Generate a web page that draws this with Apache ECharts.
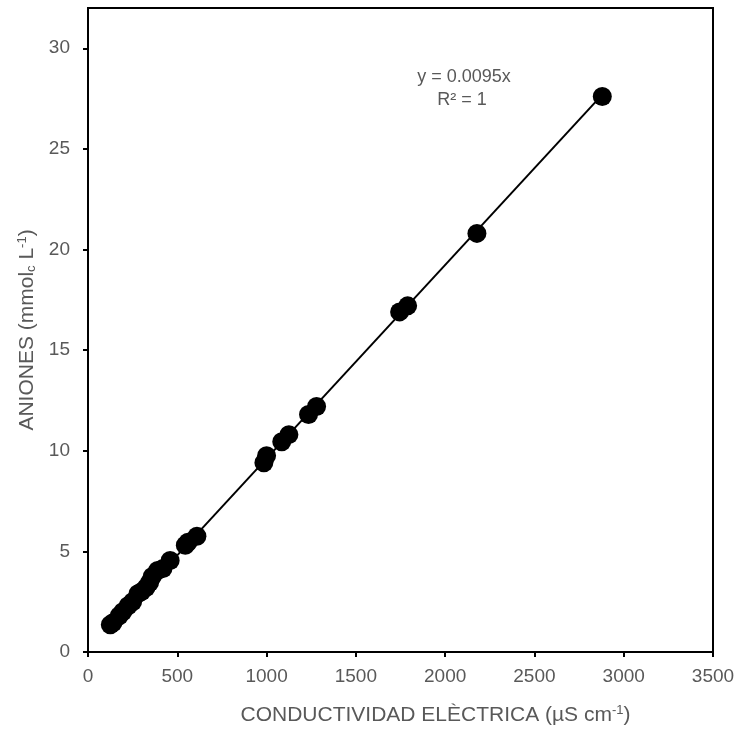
<!DOCTYPE html>
<html>
<head>
<meta charset="utf-8">
<script src="https://cdn.jsdelivr.net/npm/echarts@6/dist/echarts.min.js"></script>
<style>html,body{margin:0;padding:0;background:#fff}#c{width:740px;height:734px}</style>
</head>
<body>
<div id="c"></div>
<script>
// Conductividad eléctrica (µS/cm)
var conductivity = [125, 140, 175, 195, 225, 250, 280, 300, 325, 345, 360, 390, 420, 460, 545, 560, 610, 985, 1000, 1085, 1125, 1235, 1280, 1745, 1790, 2178, 2880];
// Aniones (mmolc/L)
var anions = [1.35, 1.45, 1.8, 2.0, 2.3, 2.5, 2.9, 3.0, 3.2, 3.45, 3.75, 4.05, 4.15, 4.55, 5.3, 5.45, 5.75, 9.4, 9.75, 10.45, 10.8, 11.8, 12.2, 16.9, 17.2, 20.8, 27.6];
var xTicks = [0, 500, 1000, 1500, 2000, 2500, 3000, 3500];
var yTicks = [0, 5, 10, 15, 20, 25, 30];
var equationText = 'y = 0.0095x';
var r2Text = 'R² = 1';

var pts = conductivity.map(function (x, i) { return [x, anions[i]]; });
// least-squares fit through origin
var sxy = 0, sxx = 0;
for (var i = 0; i < pts.length; i++) { sxy += pts[i][0] * pts[i][1]; sxx += pts[i][0] * pts[i][0]; }
var slope = sxy / sxx;
var xmin = Math.min.apply(null, conductivity), xmax = Math.max.apply(null, conductivity);
var trend = [[xmin, slope * xmin], [xmax, slope * xmax]];

var grey = '#595959';
var font = 'Liberation Sans, Arial, sans-serif';
var chart = echarts.init(document.getElementById('c'));
chart.setOption({
  animation: false,
  grid: { left: 88, top: 8, right: 27, bottom: 82, show: true, borderColor: '#000', borderWidth: 2 },
  xAxis: {
    type: 'value', min: 0, max: 3500, interval: 500,
    splitLine: { show: false },
    axisLine: { lineStyle: { color: '#000', width: 2 } },
    axisTick: { inside: false, length: 5, lineStyle: { color: '#000', width: 2 }, customValues: xTicks },
    axisLabel: { color: grey, fontSize: 19, fontFamily: font, margin: 15, customValues: xTicks,
      formatter: function (v) { return String(v); } },
    name: '{t|CONDUCTIVIDAD ELÈCTRICA (µS cm}{sup|-1}{t|)}',
    nameLocation: 'middle', nameGap: 52,
    nameTextStyle: {
      padding: [0, 0, 0, 70],
      rich: {
        t: { color: grey, fontSize: 21, fontFamily: font },
        sup: { color: grey, fontSize: 13, fontFamily: font, padding: [0, 0, 9, 0] }
      }
    }
  },
  yAxis: {
    type: 'value', min: 0, max: 32, interval: 5,
    splitLine: { show: false },
    axisLine: { lineStyle: { color: '#000', width: 2 } },
    axisTick: { inside: false, length: 5, lineStyle: { color: '#000', width: 2 }, customValues: yTicks },
    axisLabel: { color: grey, fontSize: 19, fontFamily: font, margin: 18, customValues: yTicks,
      formatter: function (v) { return String(v); } },
    name: '{t|ANIONES (mmol}{sub|c}{t| L}{sup|-1}{t|)}',
    nameLocation: 'middle', nameGap: 48, nameRotate: 90,
    nameTextStyle: {
      rich: {
        t: { color: grey, fontSize: 21, fontFamily: font },
        sub: { color: grey, fontSize: 13, fontFamily: font, padding: [9, 0, 0, 0] },
        sup: { color: grey, fontSize: 13, fontFamily: font, padding: [0, 0, 9, 0] }
      }
    }
  },
  graphic: [
    { type: 'text', x: 464, y: 77, style: { text: equationText, fill: grey, font: '18px ' + font, textAlign: 'center', textVerticalAlign: 'middle' } },
    { type: 'text', x: 462, y: 100, style: { text: r2Text, fill: grey, font: '18px ' + font, textAlign: 'center', textVerticalAlign: 'middle' } }
  ],
  series: [
    { type: 'line', data: trend, symbol: 'none', lineStyle: { color: '#000', width: 2 }, z: 2 },
    { type: 'scatter', data: pts, symbol: 'circle', symbolSize: 19, itemStyle: { color: '#000', opacity: 1 }, z: 3 }
  ]
});
</script>
</body>
</html>
